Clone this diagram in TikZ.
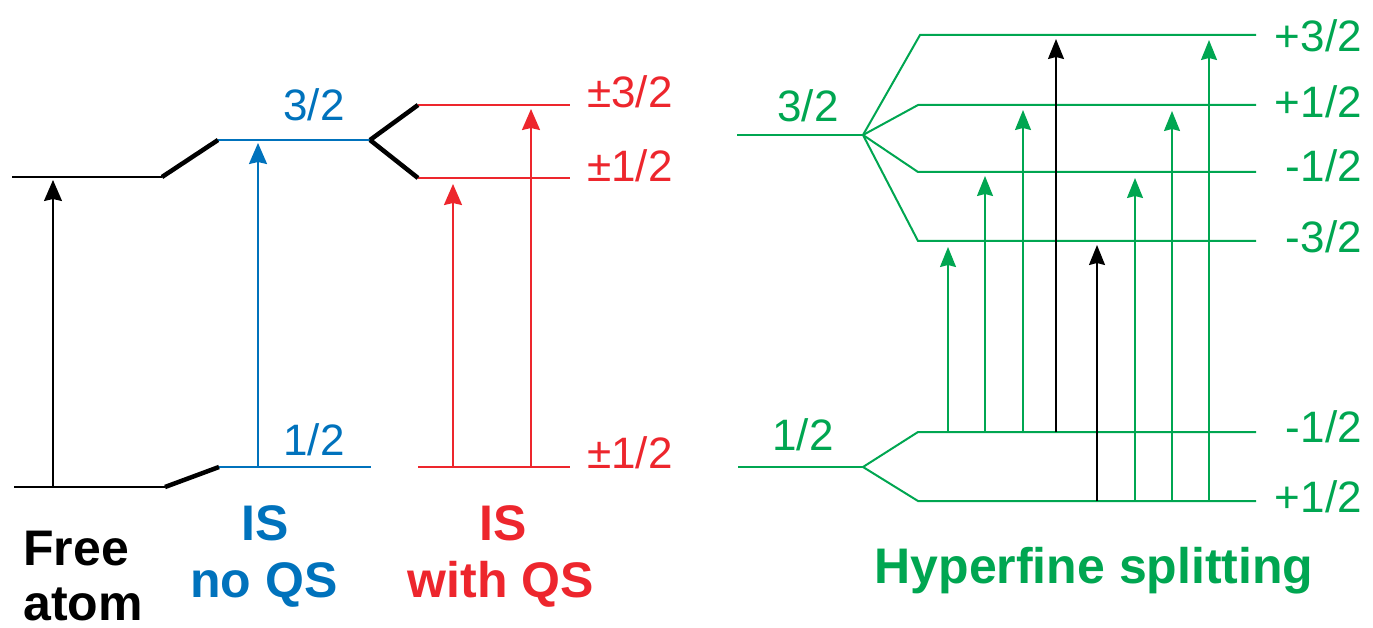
\documentclass[tikz,border=0pt]{standalone}
\usepackage{fontspec}
\setmainfont{Liberation Sans}
\usetikzlibrary{arrows.meta}
\definecolor{cblue}{RGB}{0,114,188}
\definecolor{cred}{RGB}{237,38,45}
\definecolor{cgreen}{RGB}{0,166,81}
\begin{document}
\begin{tikzpicture}[x=1pt,y=-1pt,
  level/.style={line width=2.2pt},
  shiftline/.style={line width=4.5pt,black},
  trans/.style={line width=2pt,-{Stealth[length=21pt,width=18pt,inset=2pt]}},
  lbl/.style={font=\fontsize{44}{50}\selectfont,inner sep=0pt},
  ttl/.style={font=\fontsize{50}{57}\selectfont\bfseries,inner sep=0pt}]
\useasboundingbox (0,0) rectangle (1373,628);
% ---- free atom
\coordinate (fa1) at (12,177);  \coordinate (fa2) at (162,177);
\coordinate (fb1) at (14,487);  \coordinate (fb2) at (165,487);
% ---- IS no QS
\coordinate (ba1) at (218,140); \coordinate (ba2) at (370,140);
\coordinate (bb1) at (219,467); \coordinate (bb2) at (371,467);
% ---- IS with QS
\coordinate (ra1) at (418,105); \coordinate (ra2) at (570,105);
\coordinate (rm1) at (418,178); \coordinate (rm2) at (570,178);
\coordinate (rb1) at (418,467); \coordinate (rb2) at (570,467);

\draw[level] (fa1) -- (fa2);
\draw[level] (fb1) -- (fb2);
\draw[level,cblue] (ba1) -- (ba2);
\draw[level,cblue] (bb1) -- (bb2);
\draw[level,cred] (ra1) -- (ra2);
\draw[level,cred] (rm1) -- (rm2);
\draw[level,cred] (rb1) -- (rb2);
\draw[shiftline] (fa2) -- (ba1);
\draw[shiftline] (fb2) -- (bb1);
\draw[shiftline] (ba2) -- (ra1);
\draw[shiftline] (ba2) -- (rm1);

\coordinate (fx0) at (53,487);  \coordinate (fx1) at (53,180);
\coordinate (bx0) at (258,467); \coordinate (bx1) at (258,143);
\coordinate (rx0) at (453,467); \coordinate (rx1) at (453,184);
\coordinate (ry0) at (531,467); \coordinate (ry1) at (531,109);
\draw[trans,line width=1.6pt,black] (fx0) -- (fx1);
\draw[trans,cblue] (bx0) -- (bx1);
\draw[trans,cred] (rx0) -- (rx1);
\draw[trans,cred] (ry0) -- (ry1);

\node[lbl,cblue,anchor=base] (l32b) at (314,121) {3/2};
\node[lbl,cblue,anchor=base] (l12b) at (314,455) {1/2};
\node[lbl,cred,anchor=base] (l32r) at (630,108) {±3/2};
\node[lbl,cred,anchor=base] (l12r) at (630,182) {±1/2};
\node[lbl,cred,anchor=base] (l12rb) at (630,468) {±1/2};

\node[ttl,anchor=base west] (tfree) at (23,565) {Free};
\node[ttl,anchor=base west] (tatom) at (23,620) {atom};
\node[ttl,cblue,anchor=base] (tis1) at (265,540) {IS};
\node[ttl,cblue,anchor=base] (tnoqs) at (264,597) {no QS};
\node[ttl,cred,anchor=base] (tis2) at (503,540) {IS};
\node[ttl,cred,anchor=base] (twqs) at (501,597) {with QS};

% ---- hyperfine
\coordinate (g3a) at (737,135); \coordinate (g3o) at (863,135);
\coordinate (u3) at (920,35);   \coordinate (u3e) at (1256,35);
\coordinate (u1) at (918,105);  \coordinate (u1e) at (1256,105);
\coordinate (um1) at (918,172); \coordinate (um1e) at (1256,172);
\coordinate (um3) at (918,241); \coordinate (um3e) at (1256,241);
\coordinate (g1a) at (738,467); \coordinate (g1o) at (863,467);
\coordinate (lm) at (918,432);  \coordinate (lme) at (1256,432);
\coordinate (lp) at (918,501);  \coordinate (lpe) at (1256,501);

\begin{scope}[cgreen,line width=2pt]
\draw (g3a) -- (g3o);
\draw (g3o) -- (u3) -- (u3e);
\draw (g3o) -- (u1) -- (u1e);
\draw (g3o) -- (um1) -- (um1e);
\draw (g3o) -- (um3) -- (um3e);
\draw (g1a) -- (g1o);
\draw (g1o) -- (lm) -- (lme);
\draw (g1o) -- (lp) -- (lpe);
\end{scope}

\foreach \x/\ya/\yb/\c [count=\i] in {948/432/247/cgreen, 985/432/176/cgreen, 1023/432/110/cgreen, 1056/432/39/black, 1097/501/245/black, 1135/501/178/cgreen, 1172/501/111/cgreen, 1209/501/40/cgreen}{
  \coordinate (h\i a) at (\x,\ya);
  \coordinate (h\i b) at (\x,\yb);
  \draw[trans,line width=1.7pt,\c,-{Stealth[length=20pt,width=16pt,inset=2pt]}] (h\i a) -- (h\i b);
}

\node[lbl,cgreen,anchor=base] (g32) at (808,122) {3/2};
\node[lbl,cgreen,anchor=base] (g12) at (803,450) {1/2};
\node[lbl,cgreen,anchor=base east] (gp32) at (1362,52) {+3/2};
\node[lbl,cgreen,anchor=base east] (gp12) at (1362,118) {+1/2};
\node[lbl,cgreen,anchor=base east] (gm12) at (1362,182) {-1/2};
\node[lbl,cgreen,anchor=base east] (gm32) at (1362,253) {-3/2};
\node[lbl,cgreen,anchor=base east] (gm12b) at (1362,442) {-1/2};
\node[lbl,cgreen,anchor=base east] (gp12b) at (1362,512) {+1/2};
\node[ttl,cgreen,anchor=base] (thf) at (1094,583) {Hyperfine splitting};
\end{tikzpicture}
\end{document}
